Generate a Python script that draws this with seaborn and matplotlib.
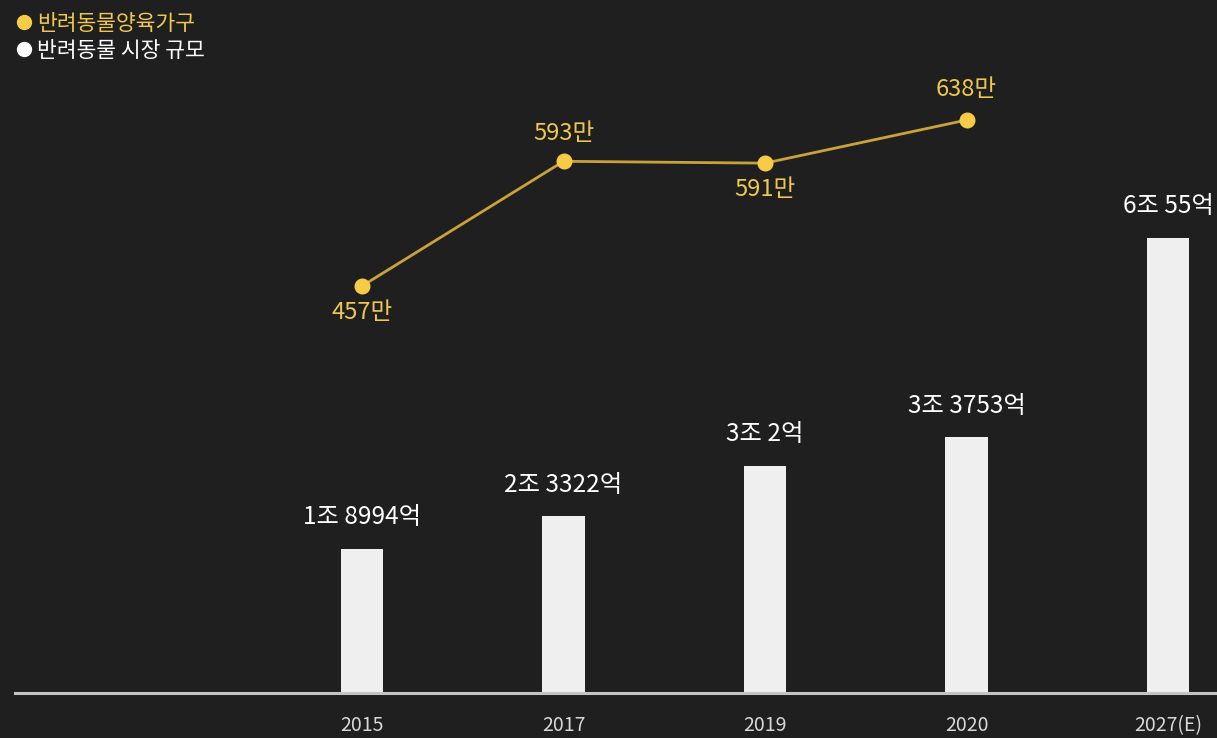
import numpy as np
import pandas as pd
import matplotlib
matplotlib.use("Agg")
import matplotlib.pyplot as plt
from matplotlib.lines import Line2D
import seaborn as sns

# ---- data ----
years = ["2015", "2017", "2019", "2020", "2027(E)"]
market_eok = [18994, 23322, 30002, 33753, 60055]          # 억 원
market_labels = ["1조 8994억", "2조 3322억", "3조 2억", "3조 3753억", "6조 55억"]
household_years = ["2015", "2017", "2019", "2020"]
households = [457, 593, 591, 638]                          # 만 가구
household_labels = ["457만", "593만", "591만", "638만"]
legend_labels = ["반려동물양육가구", "반려동물 시장 규모"]

BG = "#1f1f1f"
BAR = "#efefef"
YEL = "#f6cb45"
GOLD = "#c9a23c"
TXT_Y = "#efc84e"

sns.set_theme(style="dark")
plt.rcParams["font.family"] = ["Noto Sans CJK KR", "DejaVu Sans"]

W, H = 1217, 738
fig = plt.figure(figsize=(W / 100, H / 100), dpi=100)
fig.patch.set_facecolor(BG)
ax = fig.add_axes([15 / W, 45 / H, 1 - 15 / W, 693 / H])
ax.set_facecolor(BG)

df_bar = pd.DataFrame({"year": years, "market": market_eok})
sns.barplot(data=df_bar, x="year", y="market", order=years, color=BAR,
            saturation=1, width=0.213, ax=ax, edgecolor="none")
ax.set_ylim(0, 91545)
ax.set_xlim(-1.722, 4.243)

for i, lab in enumerate(market_labels):
    ax.annotate(lab, (i, market_eok[i]), xytext=(0, 23), textcoords="offset points",
                ha="center", va="center", color="#ffffff", fontsize=17.5)

ax2 = ax.twinx()
df_line = pd.DataFrame({"year": household_years, "hh": households})
sns.pointplot(data=df_line, x="year", y="hh", order=years, color=YEL,
              markers="o", markersize=10, linewidth=2.0, ax=ax2)
for ln in ax2.lines:
    ln.set_color(GOLD)
    ln.set_markerfacecolor(YEL)
    ln.set_markeredgecolor(YEL)
ax2.set_ylim(13.2, 768.9)
ax2.set_xlim(-1.722, 4.243)

offsets = [-19, 20, -19, 22]
for i, lab in enumerate(household_labels):
    ax2.annotate(lab, (i, households[i]), xytext=(0, offsets[i]), textcoords="offset points",
                 ha="center", va="center", color=TXT_Y, fontsize=17)

for a in (ax, ax2):
    a.set_ylabel("")
    a.set_xlabel("")
    a.set_yticks([])
    a.grid(False)
    for s in a.spines.values():
        s.set_visible(False)
ax.spines["bottom"].set_visible(True)
ax.spines["bottom"].set_color("#c4c4c4")
ax.spines["bottom"].set_linewidth(2.2)

ax.set_xticks(range(len(years)))
ax.set_xticklabels(years)
ax.tick_params(axis="x", colors="#d8d8d8", labelsize=14, length=0, pad=16)
ax2.tick_params(axis="x", length=0)

handles = [
    Line2D([], [], marker="o", linestyle="none", markersize=10,
           markerfacecolor=YEL, markeredgecolor=YEL),
    Line2D([], [], marker="o", linestyle="none", markersize=10,
           markerfacecolor="#ffffff", markeredgecolor="#ffffff"),
]
fig.legend(handles, legend_labels, loc="upper left", bbox_to_anchor=(9 / W, 1 - 4 / H),
           frameon=False, fontsize=15.5, handlelength=0.6, handletextpad=0.3,
           labelspacing=0.25, borderaxespad=0.2, borderpad=0.2,
           labelcolor=[TXT_Y, "#ffffff"])

fig.savefig("out.png", dpi=100, facecolor=BG)
